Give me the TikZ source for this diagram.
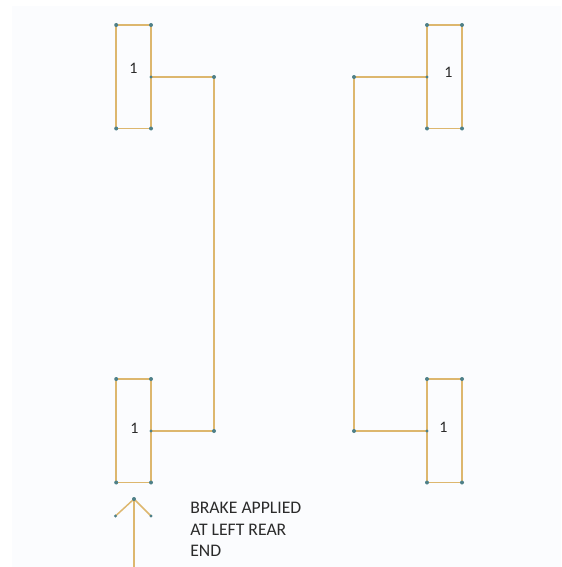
\documentclass[tikz,border=0pt]{standalone}
\usepackage{fontspec}
\setmainfont{Carlito}
\definecolor{bgc}{HTML}{FBFCFE}
\definecolor{linec}{HTML}{DDB76E}
\definecolor{dotc}{HTML}{4E8088}
\definecolor{textc}{HTML}{2B2B2B}
\tikzset{
  pt/.style={circle,fill=dotc,draw=none,inner sep=0pt,minimum size=3pt},
  smallpt/.style={circle,fill=dotc,draw=none,inner sep=0pt,minimum size=2.4pt},
  ln/.style={draw=linec,line width=1.1pt},
  lbl/.style={font=\fontsize{12pt}{14pt}\selectfont,text=textc,inner sep=0pt},
  note/.style={font=\fontsize{13.25pt}{16.1pt}\selectfont,text=textc,inner sep=0pt,align=left,anchor=north west}
}
\begin{document}
\begin{tikzpicture}[x=0.75pt,y=-0.75pt]
\useasboundingbox (0,0) rectangle (561,567);
\fill[bgc] (12,6) rectangle (561,567);
% coordinates for the connectors
\coordinate (a1) at (116.2,25);
\coordinate (a2) at (151,25);
\coordinate (a3) at (151,128.5);
\coordinate (a4) at (116.2,128.5);
\coordinate (a5) at (151,77);
\coordinate (a6) at (214,77);
\coordinate (b1) at (116.2,379);
\coordinate (b2) at (151,379);
\coordinate (b3) at (151,482.5);
\coordinate (b4) at (116.2,482.5);
\coordinate (b5) at (151,431);
\coordinate (b6) at (214,431);
\coordinate (c1) at (427,25);
\coordinate (c2) at (462,25);
\coordinate (c3) at (462,128.5);
\coordinate (c4) at (427,128.5);
\coordinate (c5) at (427,77);
\coordinate (c6) at (354,77);
\coordinate (d1) at (427,379);
\coordinate (d2) at (462,379);
\coordinate (d3) at (462,482.5);
\coordinate (d4) at (427,482.5);
\coordinate (d5) at (427,431);
\coordinate (d6) at (354,431);
\coordinate (t) at (134,499);
\coordinate (l) at (115.5,516);
\coordinate (r) at (151,516);
\coordinate (e) at (134,567);
\draw[ln] (a1)--(a2)--(a3)--(a4)--cycle;
\draw[ln] (a5)--(a6)--(b6)--(b5);
\draw[ln] (b1)--(b2)--(b3)--(b4)--cycle;
\draw[ln] (c1)--(c2)--(c3)--(c4)--cycle;
\draw[ln] (c5)--(c6)--(d6)--(d5);
\draw[ln] (d1)--(d2)--(d3)--(d4)--cycle;
\draw[ln] (t)--(e);
\draw[ln] (l)--(t)--(r);
\foreach \n in {a1,a2,a3,a4,a6,b1,b2,b3,b4,b6,c1,c2,c3,c4,c6,d1,d2,d3,d4,d6,t}
  \node[pt] (p\n) at (\n) {};
\foreach \n in {a5,b5,c5,d5,l,r}
  \node[smallpt] (p\n) at (\n) {};
\node[lbl] (la) at (133.5,68) {1};
\node[lbl] (lb) at (134.5,428.5) {1};
\node[lbl] (lc) at (448.5,72) {1};
\node[lbl] (ld) at (443.5,427) {1};
\node[note] (n) at (190,502) {BRAKE APPLIED\\AT LEFT REAR\\END};
\end{tikzpicture}
\end{document}
